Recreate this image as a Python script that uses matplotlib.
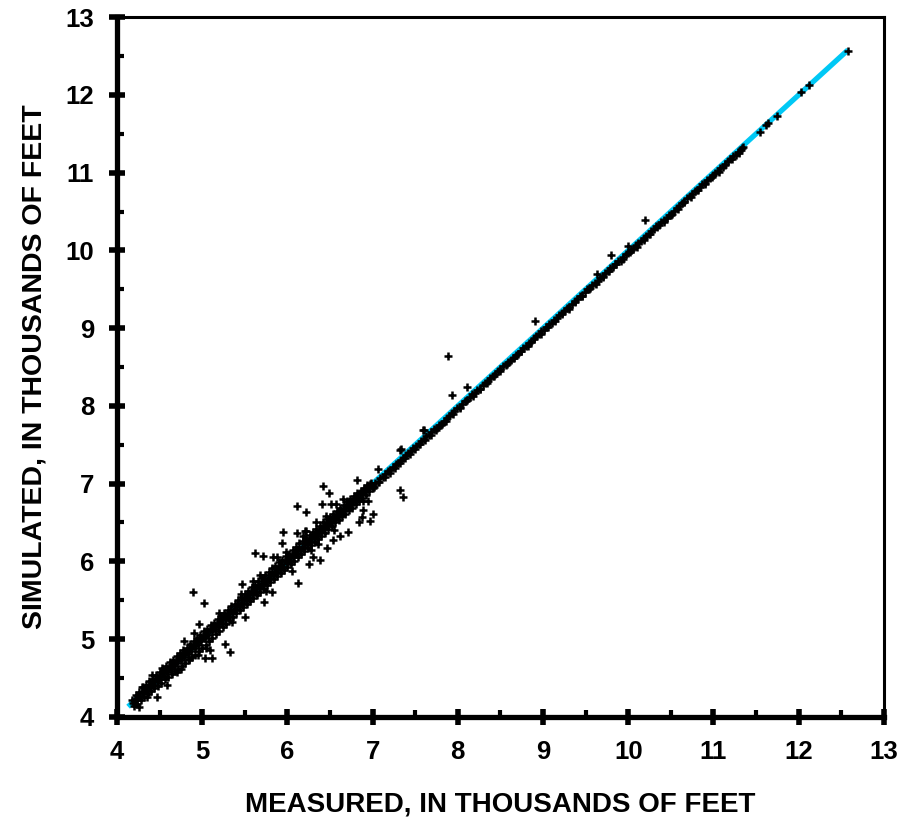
import matplotlib
matplotlib.use("Agg")
import matplotlib.pyplot as plt
from matplotlib.ticker import MultipleLocator

plt.rcParams['font.family'] = ['Liberation Sans', 'DejaVu Sans']

# 1:1 reference line (measured = simulated)
line_ends = [4.13, 12.58]

# dense cloud of wells along the 1:1 line, 4.2 - 7.0 thousand feet (four rows)
low_measured = [
    4.18, 4.22, 4.26, 4.30, 4.34, 4.38, 4.42, 4.46, 4.50, 4.54,
    4.58, 4.62, 4.66, 4.70, 4.74, 4.78, 4.82, 4.86, 4.90, 4.94,
    4.98, 5.02, 5.06, 5.10, 5.14, 5.18, 5.22, 5.26, 5.30, 5.34,
    5.38, 5.42, 5.46, 5.50, 5.54, 5.58, 5.62, 5.66, 5.70, 5.74,
    5.78, 5.82, 5.86, 5.90, 5.94, 5.98, 6.02, 6.06, 6.10, 6.14,
    6.18, 6.22, 6.26, 6.30, 6.34, 6.38, 6.42, 6.46, 6.50, 6.54,
    6.58, 6.62, 6.66, 6.70, 6.74, 6.78, 6.82, 6.86, 6.90, 6.94,
    6.98,
    4.21, 4.25, 4.29, 4.33, 4.37, 4.41, 4.45, 4.49, 4.53, 4.57,
    4.61, 4.65, 4.69, 4.73, 4.77, 4.81, 4.85, 4.89, 4.93, 4.97,
    5.01, 5.05, 5.09, 5.13, 5.17, 5.21, 5.25, 5.29, 5.33, 5.37,
    5.41, 5.45, 5.49, 5.53, 5.57, 5.61, 5.65, 5.69, 5.73, 5.77,
    5.81, 5.85, 5.89, 5.93, 5.97, 6.01, 6.05, 6.09, 6.13, 6.17,
    6.21, 6.25, 6.29, 6.33, 6.37, 6.41, 6.45, 6.49, 6.53, 6.57,
    6.61, 6.65, 6.69, 6.73, 6.77, 6.81, 6.85, 6.89, 6.93, 6.97,
    4.19, 4.23, 4.27, 4.31, 4.35, 4.39, 4.43, 4.47, 4.51, 4.55,
    4.59, 4.63, 4.67, 4.71, 4.75, 4.79, 4.83, 4.87, 4.91, 4.95,
    4.99, 5.03, 5.07, 5.11, 5.15, 5.19, 5.23, 5.27, 5.31, 5.35,
    5.39, 5.43, 5.47, 5.51, 5.55, 5.59, 5.63, 5.67, 5.71, 5.75,
    5.79, 5.83, 5.87, 5.91, 5.95, 5.99, 6.03, 6.07, 6.11, 6.15,
    6.19, 6.23, 6.27, 6.31, 6.35, 6.39, 6.43, 6.47, 6.51, 6.55,
    6.59, 6.63, 6.67, 6.71, 6.75, 6.79, 6.83, 6.87, 6.91, 6.95,
    6.99,
    4.20, 4.24, 4.28, 4.32, 4.36, 4.40, 4.44, 4.48, 4.52, 4.56,
    4.60, 4.64, 4.68, 4.72, 4.76, 4.80, 4.84, 4.88, 4.92, 4.96,
    5.00, 5.04, 5.08, 5.12, 5.16, 5.20, 5.24, 5.28, 5.32, 5.36,
    5.40, 5.44, 5.48, 5.52, 5.56, 5.60, 5.64, 5.68, 5.72, 5.76,
    5.80, 5.84, 5.88, 5.92, 5.96, 6.00, 6.04, 6.08, 6.12, 6.16,
    6.20, 6.24, 6.28, 6.32, 6.36, 6.40, 6.44, 6.48, 6.52, 6.56,
    6.60, 6.64, 6.68, 6.72, 6.76, 6.80, 6.84, 6.88, 6.92, 6.96,
    7.00,
]
low_simulated = [
    4.22, 4.28, 4.32, 4.38, 4.41, 4.46, 4.49, 4.54, 4.57, 4.62,
    4.65, 4.70, 4.73, 4.78, 4.82, 4.86, 4.89, 4.94, 4.98, 5.02,
    5.05, 5.10, 5.13, 5.18, 5.21, 5.26, 5.30, 5.34, 5.37, 5.42,
    5.45, 5.50, 5.54, 5.58, 5.62, 5.67, 5.70, 5.75, 5.78, 5.83,
    5.86, 5.91, 5.94, 5.99, 6.02, 6.07, 6.10, 6.15, 6.18, 6.23,
    6.26, 6.30, 6.34, 6.38, 6.42, 6.46, 6.50, 6.54, 6.57, 6.61,
    6.65, 6.69, 6.73, 6.77, 6.80, 6.84, 6.88, 6.91, 6.94, 6.98,
    7.01,
    4.23, 4.27, 4.32, 4.35, 4.40, 4.43, 4.48, 4.51, 4.56, 4.59,
    4.64, 4.67, 4.72, 4.75, 4.80, 4.83, 4.88, 4.91, 4.96, 4.99,
    5.04, 5.07, 5.12, 5.15, 5.20, 5.23, 5.28, 5.31, 5.36, 5.39,
    5.44, 5.47, 5.52, 5.55, 5.60, 5.63, 5.68, 5.71, 5.76, 5.79,
    5.84, 5.87, 5.92, 5.95, 6.00, 6.03, 6.08, 6.11, 6.16, 6.19,
    6.24, 6.27, 6.32, 6.35, 6.40, 6.43, 6.48, 6.51, 6.56, 6.59,
    6.64, 6.67, 6.72, 6.75, 6.80, 6.83, 6.88, 6.91, 6.96, 6.99,
    4.18, 4.22, 4.25, 4.30, 4.33, 4.38, 4.41, 4.46, 4.49, 4.53,
    4.57, 4.62, 4.65, 4.69, 4.73, 4.77, 4.81, 4.85, 4.89, 4.93,
    4.97, 5.01, 5.05, 5.10, 5.13, 5.17, 5.21, 5.26, 5.29, 5.34,
    5.37, 5.42, 5.45, 5.50, 5.53, 5.58, 5.61, 5.66, 5.69, 5.74,
    5.77, 5.82, 5.85, 5.90, 5.93, 5.98, 6.01, 6.06, 6.09, 6.14,
    6.17, 6.22, 6.25, 6.30, 6.33, 6.38, 6.41, 6.46, 6.49, 6.54,
    6.57, 6.62, 6.65, 6.70, 6.73, 6.78, 6.81, 6.86, 6.89, 6.94,
    6.97,
    4.14, 4.17, 4.21, 4.25, 4.29, 4.33, 4.37, 4.40, 4.44, 4.48,
    4.51, 4.55, 4.59, 4.62, 4.65, 4.69, 4.73, 4.77, 4.80, 4.85,
    4.89, 4.93, 4.97, 5.02, 5.06, 5.11, 5.15, 5.20, 5.24, 5.29,
    5.33, 5.37, 5.41, 5.45, 5.49, 5.53, 5.57, 5.61, 5.65, 5.69,
    5.73, 5.77, 5.81, 5.85, 5.89, 5.93, 5.97, 6.01, 6.05, 6.09,
    6.13, 6.17, 6.21, 6.25, 6.29, 6.33, 6.37, 6.42, 6.45, 6.50,
    6.53, 6.58, 6.61, 6.66, 6.69, 6.74, 6.77, 6.82, 6.85, 6.90,
    6.94,
]

# narrow band of wells, 7.0 - 11.35 thousand feet
high_measured = [
    7.00, 7.03, 7.06, 7.09, 7.12, 7.15, 7.18, 7.21, 7.24, 7.27,
    7.30, 7.33, 7.36, 7.39, 7.42, 7.45, 7.48, 7.51, 7.54, 7.57,
    7.60, 7.63, 7.66, 7.69, 7.72, 7.75, 7.78, 7.81, 7.84, 7.87,
    7.90, 7.93, 7.96, 7.99, 8.02, 8.05, 8.08, 8.11, 8.14, 8.17,
    8.20, 8.23, 8.26, 8.29, 8.32, 8.35, 8.38, 8.41, 8.44, 8.47,
    8.50, 8.53, 8.56, 8.59, 8.62, 8.65, 8.68, 8.71, 8.74, 8.77,
    8.80, 8.83, 8.86, 8.89, 8.92, 8.95, 8.98, 9.01, 9.04, 9.07,
    9.10, 9.13, 9.16, 9.19, 9.22, 9.25, 9.28, 9.31, 9.34, 9.37,
    9.40, 9.43, 9.46, 9.49, 9.52, 9.55, 9.58, 9.61, 9.64, 9.67,
    9.70, 9.73, 9.76, 9.79, 9.82, 9.85, 9.88, 9.91, 9.94, 9.97,
    10.00, 10.03, 10.06, 10.09, 10.12, 10.15, 10.18, 10.21, 10.24, 10.27,
    10.30, 10.33, 10.36, 10.39, 10.42, 10.45, 10.48, 10.51, 10.54, 10.57,
    10.60, 10.63, 10.66, 10.69, 10.72, 10.75, 10.78, 10.81, 10.84, 10.87,
    10.90, 10.93, 10.96, 10.99, 11.02, 11.05, 11.08, 11.11, 11.14, 11.17,
    11.20, 11.23, 11.26, 11.29, 11.32, 11.35,
    7.02, 7.08, 7.14, 7.20, 7.26, 7.32, 7.38, 7.44, 7.50, 7.56,
    7.62, 7.68, 7.74, 7.80,
    7.86, 7.94, 8.02, 8.10, 8.18, 8.26, 8.34, 8.42, 8.50, 8.58,
    8.66, 8.74, 8.82, 8.90, 8.98, 9.06, 9.14, 9.22, 9.30, 9.38,
    9.46, 9.54, 9.62, 9.70, 9.78, 9.86, 9.94, 10.02, 10.10, 10.18,
    10.26, 10.34, 10.42, 10.50, 10.58, 10.66, 10.74, 10.82, 10.90, 10.98,
    11.06, 11.14, 11.22, 11.30,
]
high_simulated = [
    6.97, 7.01, 7.02, 7.07, 7.09, 7.12, 7.16, 7.17, 7.21, 7.25,
    7.27, 7.31, 7.33, 7.37, 7.39, 7.42, 7.46, 7.48, 7.51, 7.55,
    7.57, 7.61, 7.62, 7.67, 7.70, 7.72, 7.76, 7.77, 7.81, 7.85,
    7.87, 7.91, 7.93, 7.97, 7.99, 8.02, 8.06, 8.08, 8.11, 8.15,
    8.17, 8.21, 8.22, 8.27, 8.29, 8.32, 8.36, 8.38, 8.41, 8.45,
    8.47, 8.51, 8.53, 8.57, 8.59, 8.62, 8.66, 8.67, 8.71, 8.75,
    8.77, 8.81, 8.82, 8.87, 8.90, 8.92, 8.96, 8.98, 9.01, 9.05,
    9.07, 9.11, 9.13, 9.17, 9.19, 9.22, 9.26, 9.27, 9.31, 9.35,
    9.37, 9.41, 9.42, 9.47, 9.50, 9.52, 9.56, 9.58, 9.61, 9.65,
    9.67, 9.71, 9.73, 9.77, 9.79, 9.82, 9.86, 9.87, 9.91, 9.95,
    9.97, 10.01, 10.02, 10.07, 10.10, 10.12, 10.16, 10.18, 10.21, 10.25,
    10.27, 10.31, 10.33, 10.37, 10.39, 10.42, 10.46, 10.47, 10.51, 10.55,
    10.57, 10.61, 10.62, 10.67, 10.70, 10.72, 10.76, 10.78, 10.81, 10.85,
    10.87, 10.91, 10.93, 10.97, 10.99, 11.02, 11.06, 11.07, 11.11, 11.15,
    11.17, 11.21, 11.23, 11.27, 11.29, 11.33,
    6.95, 7.02, 7.08, 7.14, 7.20, 7.27, 7.33, 7.38, 7.45, 7.51,
    7.56, 7.63, 7.69, 7.75,
    7.81, 7.90, 7.97, 8.06, 8.13, 8.22, 8.29, 8.38, 8.45, 8.54,
    8.61, 8.70, 8.77, 8.86, 8.93, 9.02, 9.09, 9.18, 9.25, 9.34,
    9.41, 9.50, 9.57, 9.66, 9.73, 9.82, 9.89, 9.98, 10.05, 10.14,
    10.21, 10.30, 10.37, 10.46, 10.53, 10.62, 10.69, 10.78, 10.85, 10.94,
    11.01, 11.10, 11.17, 11.26,
]

# scattered wells and outliers
scatter_measured = [
    4.26, 4.29, 4.35, 4.41, 4.47, 4.53, 4.59, 4.70, 4.79, 4.85,
    4.89, 4.90, 4.96, 5.02, 5.03, 5.09, 5.11, 5.27, 5.33, 5.47,
    5.50, 5.73, 5.82, 5.62, 5.71, 5.83, 5.95, 5.94, 6.11, 6.12,
    6.22, 6.21, 6.42, 6.49, 6.41, 6.51, 6.57, 6.33, 6.71, 6.82,
    6.89, 6.95, 6.89, 7.00, 6.88, 6.84, 6.97, 6.62, 6.54, 6.46,
    6.38, 6.25, 6.30, 6.11, 6.22, 7.32, 7.36, 7.06, 7.32, 7.59,
    7.33, 7.60, 7.88, 7.93, 8.11, 8.91, 9.63, 9.80, 10.00, 10.20,
    11.34, 11.55, 11.62, 11.64, 11.75, 12.03, 12.12, 12.58,
    5.45, 5.60, 5.75, 5.88, 6.05, 6.18, 6.28, 6.45, 6.55, 6.65,
    5.20, 5.05, 4.95, 4.75, 5.35, 5.68, 5.98, 6.36,
]
scatter_simulated = [
    4.13, 4.38, 4.25, 4.54, 4.26, 4.63, 4.41, 4.58, 4.97, 4.74,
    5.61, 5.08, 5.20, 5.47, 4.76, 4.86, 4.76, 4.94, 4.83, 5.71,
    5.29, 5.48, 5.60, 6.11, 6.07, 6.06, 6.38, 6.24, 6.71, 5.72,
    6.64, 6.39, 6.97, 6.88, 6.74, 6.74, 6.74, 6.51, 6.38, 7.05,
    6.78, 6.78, 6.66, 6.61, 6.57, 6.50, 6.52, 6.32, 6.28, 6.17,
    6.02, 5.97, 6.06, 6.37, 6.39, 6.92, 6.83, 7.19, 7.43, 7.69,
    7.45, 7.69, 8.64, 8.14, 8.24, 9.09, 9.70, 9.94, 10.06, 10.39,
    11.32, 11.53, 11.62, 11.64, 11.73, 12.04, 12.13, 12.57,
    5.58, 5.75, 5.62, 6.05, 5.88, 6.33, 6.15, 6.58, 6.40, 6.80,
    5.33, 4.88, 4.80, 4.62, 5.22, 5.82, 6.12, 6.22,
]

fig = plt.figure(figsize=(9, 8.22), dpi=100)
ax = fig.add_axes([0.130, 0.128, 0.852, 0.851])

ax.plot(line_ends, line_ends, color='#00C8F5', lw=3.8, solid_capstyle='butt', zorder=1)
for xs, ys in [(low_measured, low_simulated), (high_measured, high_simulated),
               (scatter_measured, scatter_simulated)]:
    ax.plot(xs, ys, ls='none', marker='+', ms=5.8, mew=1.8, color='black', zorder=2)

ax.set_xlim(4, 13)
ax.set_ylim(4, 13)
ax.xaxis.set_major_locator(MultipleLocator(1))
ax.yaxis.set_major_locator(MultipleLocator(1))
ax.xaxis.set_minor_locator(MultipleLocator(0.5))
ax.yaxis.set_minor_locator(MultipleLocator(0.5))
ax.tick_params(which='major', direction='inout', length=11, width=4, labelsize=18.5, pad=11)
ax.tick_params(which='minor', direction='in', length=5, width=3)
for lab in ax.get_xticklabels() + ax.get_yticklabels():
    lab.set_fontweight('bold')

ax.spines['left'].set_linewidth(3.8)
ax.spines['bottom'].set_linewidth(3.8)
ax.spines['top'].set_linewidth(2.2)
ax.spines['right'].set_linewidth(2.2)

ax.set_xlabel('MEASURED, IN THOUSANDS OF FEET', fontsize=20, fontweight='bold', labelpad=20)
ax.set_ylabel('SIMULATED, IN THOUSANDS OF FEET', fontsize=20.5, fontweight='bold', labelpad=13)

fig.savefig('out.png', dpi=100)
